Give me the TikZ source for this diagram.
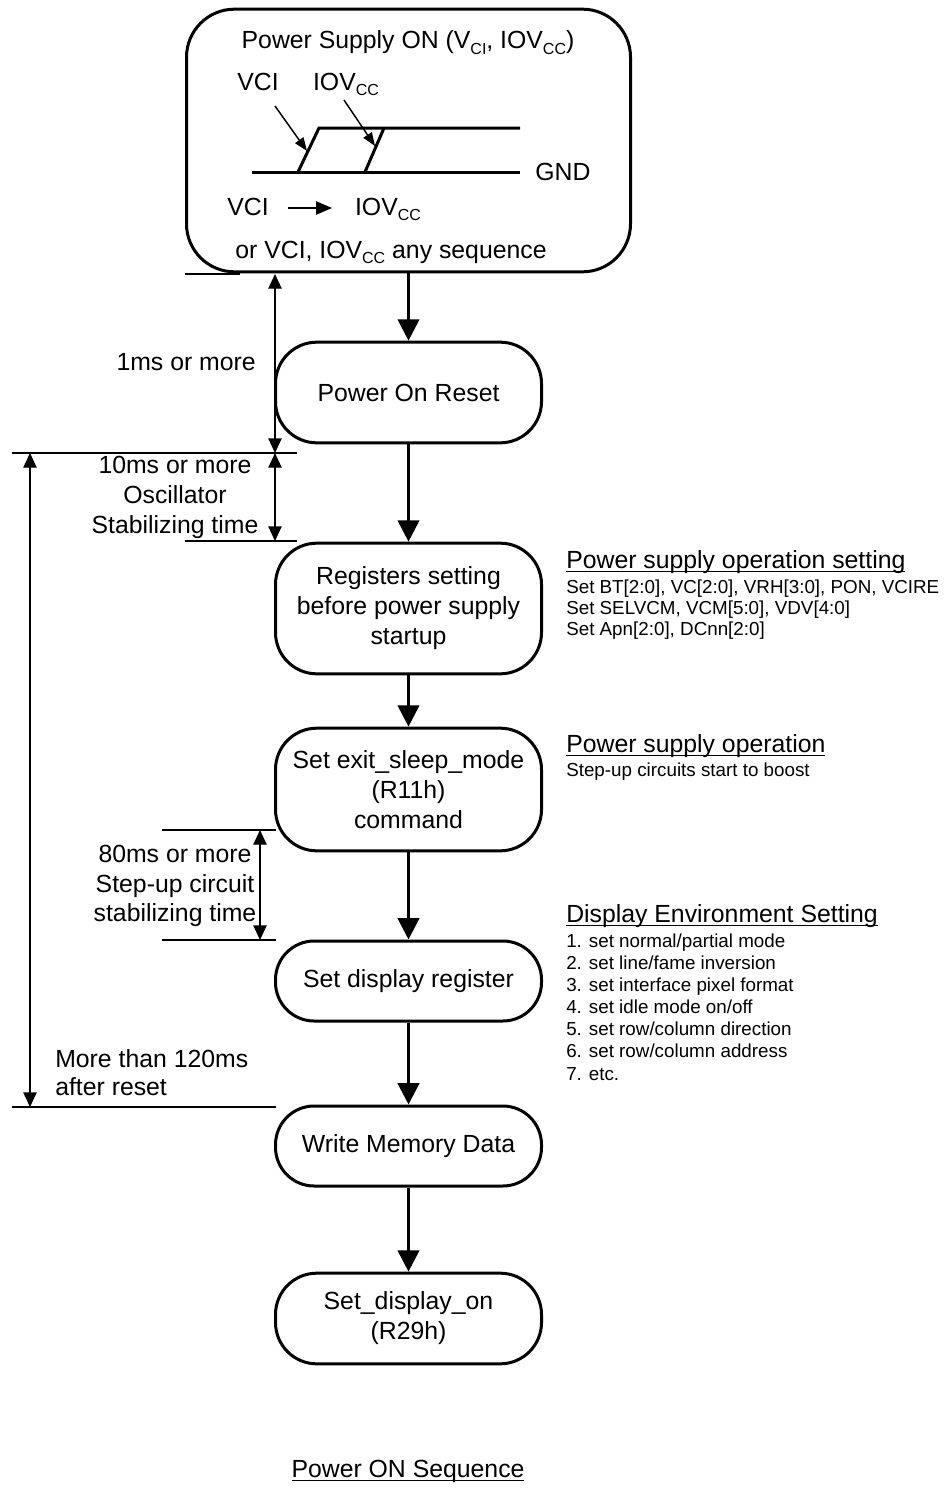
\documentclass[tikz,border=0pt]{standalone}
\usepackage{fontspec}
\setmainfont{Liberation Sans}
\usetikzlibrary{arrows.meta}
\newcommand\bigf{\fontsize{18.6}{22.5}\selectfont}
\newcommand\smf{\fontsize{14.1}{16.2}\selectfont}
\newcommand\lsub[1]{\raisebox{-0.45ex}{\fontsize{12}{12}\selectfont #1}}
\newcommand\myul[1]{\leavevmode\setbox0\hbox{#1}\rlap{\rule[-3.2pt]{\wd0}{0.9pt}}\box0}
\begin{document}
\begin{tikzpicture}[x=0.75pt,y=-0.75pt,
  flow/.style={draw,line width=2.25pt,rounded corners=31pt,minimum width=199.5pt,
    align=center,font=\bigf,inner sep=0pt},
  mainarrow/.style={line width=2.25pt,-{Triangle[length=16pt,width=16pt]}},
  dimline/.style={line width=1pt},
  dimarrow/.style={line width=1pt,{Triangle[length=11pt,width=10pt]}-{Triangle[length=11pt,width=10pt]}},
  wave/.style={line width=2.25pt,line join=miter},
  smallarrow/.style={line width=1.1pt,-{Triangle[length=10pt,width=7.5pt]}},
  lbl/.style={font=\bigf,inner sep=0pt,anchor=base},
  small/.style={font=\smf,inner sep=0pt,anchor=base west}]
\useasboundingbox (0,0) rectangle (944,1488);

% ---- flow boxes
\node[flow,minimum width=333pt,minimum height=197pt,rounded corners=36pt] (psu) at (408.5,140.5) {};
\node[flow,minimum height=75.5pt] (por) at (408.5,392.5) {Power On Reset};
\node[flow,minimum height=98pt] (reg) at (408.5,608.5) {Registers setting\\before power supply\\startup};
\node[flow,minimum height=92pt] (exit) at (408.5,789.5) {Set exit\_sleep\_mode\\(R11h)\\command};
\node[flow,minimum height=60pt,rounded corners=29pt] (sdr) at (408.5,981) {Set display register};
\node[flow,minimum height=60pt,rounded corners=29pt] (wmd) at (408.5,1146) {Write Memory Data};
\node[flow,minimum height=68pt] (sdo) at (408.5,1318.5) {Set\_display\_on\\(R29h)};

\draw[mainarrow] (psu) -- (por);
\draw[mainarrow] (por) -- (reg);
\draw[mainarrow] (reg) -- (exit);
\draw[mainarrow] (exit) -- (sdr);
\draw[mainarrow] (sdr) -- (wmd);
\draw[mainarrow] (wmd) -- (sdo);

% ---- contents of the power supply box
\node[lbl] (pson) at (408,49) {Power Supply ON (V\lsub{CI}, IOV\lsub{CC})};
\node[lbl] (vcil) at (258,90) {VCI};
\node[lbl] (iovl) at (346,90) {IOV\lsub{CC}};
\node[lbl] (gnd) at (563,180) {GND};
\node[lbl] (vci2) at (248,215) {VCI};
\node[lbl] (iov2) at (388,215) {IOV\lsub{CC}};
\node[lbl] (anyseq) at (391,258) {or VCI, IOV\lsub{CC} any sequence};

\coordinate (g0) at (252,172);
\coordinate (g1) at (520,172);
\coordinate (va) at (298,172);
\coordinate (vb) at (319,128);
\coordinate (vc) at (520,128);
\coordinate (ia) at (365,172);
\coordinate (ib) at (384,128);
\draw[wave] (g0) -- (g1);
\draw[wave] (va) -- (vb) -- (vc);
\draw[wave] (ia) -- (ib);
\coordinate (vs) at (275,106);
\coordinate (ve) at (307,151);
\coordinate (is) at (344,100);
\coordinate (ie) at (375,146);
\draw[smallarrow] (vs) -- (ve);
\draw[smallarrow] (is) -- (ie);
\coordinate (sa) at (288,208);
\coordinate (sb) at (332,208);
\draw[line width=1.1pt,-{Triangle[length=12pt,width=10pt]}] (sa) -- (sb);

% ---- timing dimension lines
\coordinate (l1a) at (185,274);
\coordinate (l1b) at (240,274);
\coordinate (l2a) at (12,453);
\coordinate (l2b) at (297,453);
\coordinate (l3a) at (185,541);
\coordinate (l3b) at (297,541);
\coordinate (l4a) at (162,830);
\coordinate (l4b) at (276,830);
\coordinate (l5a) at (162,940);
\coordinate (l5b) at (276,940);
\coordinate (l6a) at (12,1107);
\coordinate (l6b) at (276,1107);
\draw[dimline] (l1a) -- (l1b);
\draw[dimline] (l2a) -- (l2b);
\draw[dimline] (l3a) -- (l3b);
\draw[dimline] (l4a) -- (l4b);
\draw[dimline] (l5a) -- (l5b);
\draw[dimline] (l6a) -- (l6b);

\coordinate (d1a) at (275,274);
\coordinate (d1b) at (275,453);
\coordinate (d2b) at (275,541);
\coordinate (d3a) at (30,453);
\coordinate (d3b) at (30,1107);
\coordinate (d4a) at (260,830);
\coordinate (d4b) at (260,940);
\draw[dimarrow] (d1a) -- (d1b);
\draw[dimarrow] (d1b) -- (d2b);
\draw[dimarrow] (d3a) -- (d3b);
\draw[dimarrow] (d4a) -- (d4b);

\node[lbl,anchor=base east] (t1ms) at (256,370) {1ms or more};
\node[lbl] (t10a) at (175,473) {10ms or more};
\node[lbl] (t10b) at (175,503) {Oscillator};
\node[lbl] (t10c) at (175,533) {Stabilizing time};
\node[lbl] (t80a) at (175,862) {80ms or more};
\node[lbl] (t80b) at (175,892) {Step-up circuit};
\node[lbl] (t80c) at (175,921) {stabilizing time};
\node[lbl,anchor=base west] (t120a) at (55,1067) {More than 120ms};
\node[lbl,anchor=base west] (t120b) at (55,1095) {after reset};

% ---- right side notes
\node[lbl,anchor=base west] (h1) at (566,568) {\myul{Power supply operation setting}};
\node[small] (h1a) at (566,593) {Set BT[2:0], VC[2:0], VRH[3:0], PON, VCIRE};
\node[small] (h1b) at (566,614) {Set SELVCM, VCM[5:0], VDV[4:0]};
\node[small] (h1c) at (566,635) {Set Apn[2:0], DCnn[2:0]};

\node[lbl,anchor=base west] (h2) at (566,752) {\myul{Power supply operation}};
\node[small] (h2a) at (566,776) {Step-up circuits start to boost};

\node[lbl,anchor=base west] (h3) at (566,922) {\myul{Display Environment Setting}};
\node[small] (e1) at (566,947) {1. set normal/partial mode};
\node[small] (e2) at (566,969) {2. set line/fame inversion};
\node[small] (e3) at (566,991) {3. set interface pixel format};
\node[small] (e4) at (566,1013) {4. set idle mode on/off};
\node[small] (e5) at (566,1035) {5. set row/column direction};
\node[small] (e6) at (566,1057) {6. set row/column address};
\node[small] (e7) at (566,1080) {7. etc.};

% ---- title
\node[lbl] (title) at (408,1477) {\myul{Power ON Sequence}};
\end{tikzpicture}
\end{document}
